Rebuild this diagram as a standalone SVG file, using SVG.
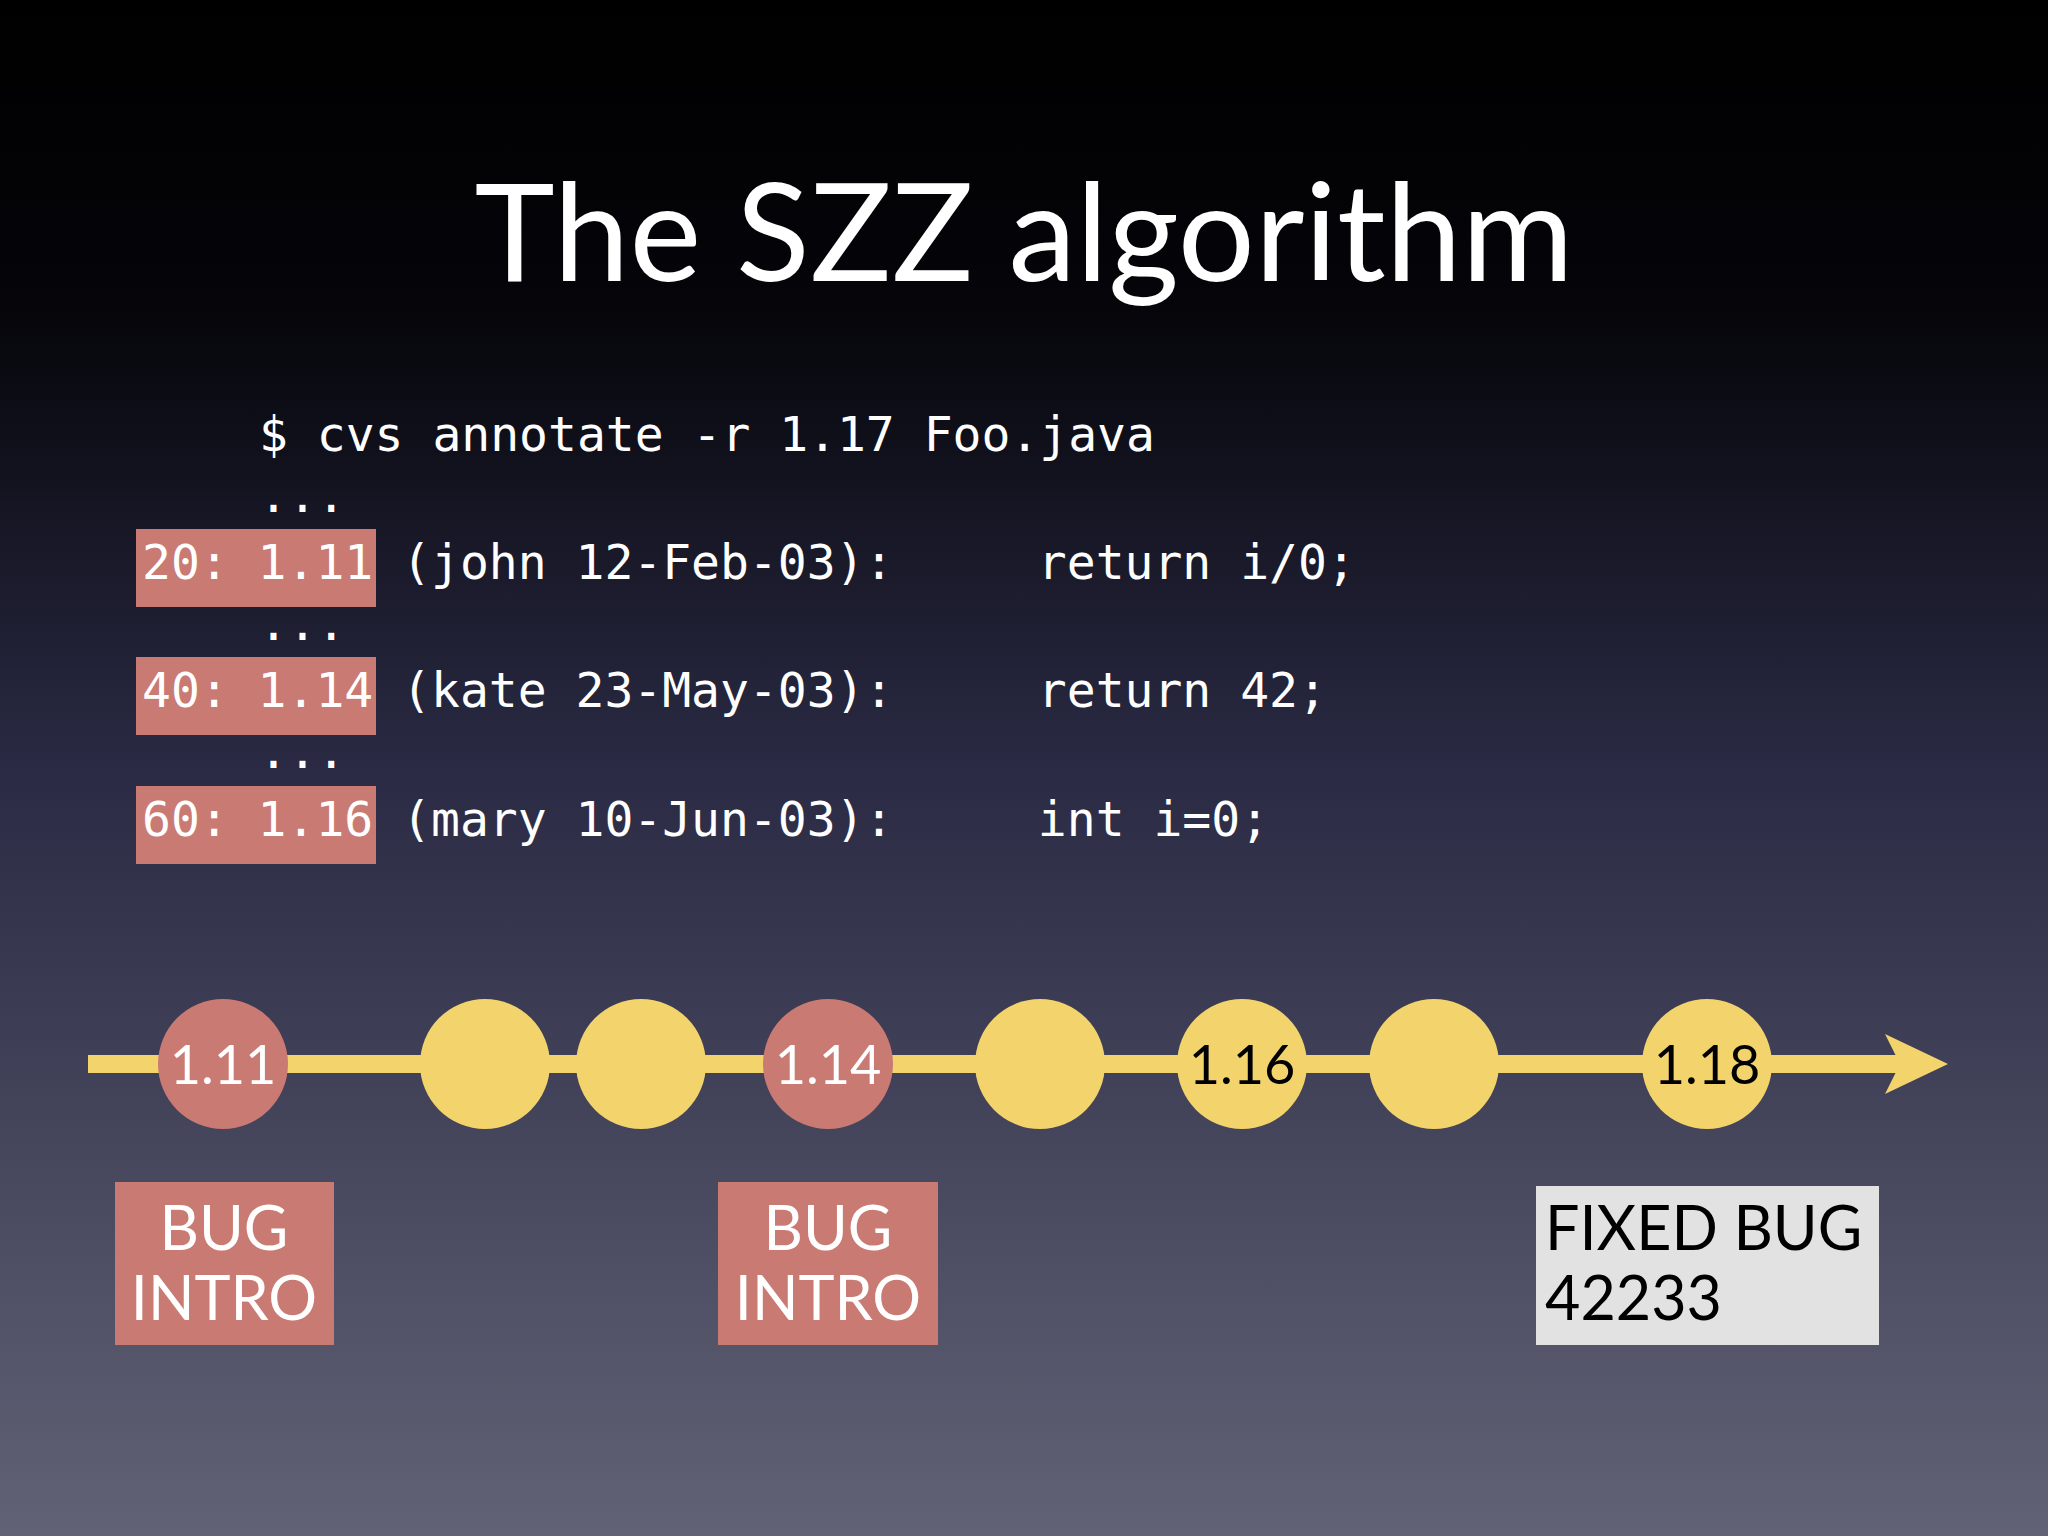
<svg xmlns="http://www.w3.org/2000/svg" width="2048" height="1536" viewBox="0 0 2048 1536">
<defs>
<linearGradient id="bg" x1="0" y1="0" x2="0" y2="1">
<stop offset="0" stop-color="#000"/><stop offset="0.2" stop-color="#05050a"/><stop offset="0.5" stop-color="#2a2a44"/><stop offset="1" stop-color="#626276"/>
</linearGradient>
<style>
.code{font-family:"DejaVu Sans Mono",monospace;font-size:48px;fill:#fff}
.hl{fill:#c97a72}
.lab{font-family:"Lato","Open Sans",sans-serif;font-size:54px;text-anchor:middle}
.box{font-family:"Lato","Open Sans",sans-serif;font-size:61px}
.pk{fill:#c97a72}.yl{fill:#f2d36c}
</style>
</defs>
<rect width="2048" height="1536" fill="url(#bg)"/>
<text x="1024" y="281" font-family="Lato,'Open Sans',sans-serif" font-size="136" fill="#fff" text-anchor="middle">The SZZ algorithm</text>
<g id="code">
<rect class="hl" x="136" y="529" width="240" height="78"/>
<rect class="hl" x="136" y="657" width="240" height="78"/>
<rect class="hl" x="136" y="786" width="240" height="78"/>
<text class="code" x="259" y="451" xml:space="preserve">$ cvs annotate -r 1.17 Foo.java</text>
<text class="code" x="259" y="512">...</text>
<text class="code" x="142" y="579" xml:space="preserve">20: 1.11 (john 12-Feb-03):     return i/0;</text>
<text class="code" x="259" y="640">...</text>
<text class="code" x="142" y="707" xml:space="preserve">40: 1.14 (kate 23-May-03):     return 42;</text>
<text class="code" x="259" y="768">...</text>
<text class="code" x="142" y="836" xml:space="preserve">60: 1.16 (mary 10-Jun-03):     int i=0;</text>
</g>
<g id="connectors">
<line x1="88" y1="1064" x2="1900" y2="1064" stroke="#f2d36c" stroke-width="18"/>
<polygon points="1885,1034 1948,1064 1885,1094 1900,1064" fill="#f2d36c"/>
</g>
<g id="n111"><circle class="pk" cx="223" cy="1064" r="65"/><text class="lab" x="223" y="1084" fill="#fff">1.11</text></g>
<g id="n2"><circle class="yl" cx="485" cy="1064" r="65"/></g>
<g id="n3"><circle class="yl" cx="641" cy="1064" r="65"/></g>
<g id="n114"><circle class="pk" cx="828" cy="1064" r="65"/><text class="lab" x="828" y="1084" fill="#fff">1.14</text></g>
<g id="n5"><circle class="yl" cx="1040" cy="1064" r="65"/></g>
<g id="n116"><circle class="yl" cx="1242" cy="1064" r="65"/><text class="lab" x="1242" y="1084" fill="#000">1.16</text></g>
<g id="n7"><circle class="yl" cx="1434" cy="1064" r="65"/></g>
<g id="n118"><circle class="yl" cx="1707" cy="1064" r="65"/><text class="lab" x="1707" y="1084" fill="#000">1.18</text></g>
<g id="bug1"><rect class="pk" x="115" y="1182" width="219" height="163"/><text class="box" x="224" y="1250" fill="#fff" text-anchor="middle">BUG</text><text class="box" x="224" y="1320" fill="#fff" text-anchor="middle">INTRO</text></g>
<g id="bug2"><rect class="pk" x="718" y="1182" width="220" height="163"/><text class="box" x="828" y="1250" fill="#fff" text-anchor="middle">BUG</text><text class="box" x="828" y="1320" fill="#fff" text-anchor="middle">INTRO</text></g>
<g id="fix"><rect x="1536" y="1186" width="343" height="159" fill="#e2e2e2"/><text class="box" x="1545" y="1250" fill="#000">FIXED BUG</text><text class="box" x="1545" y="1320" fill="#000">42233</text></g>
</svg>
